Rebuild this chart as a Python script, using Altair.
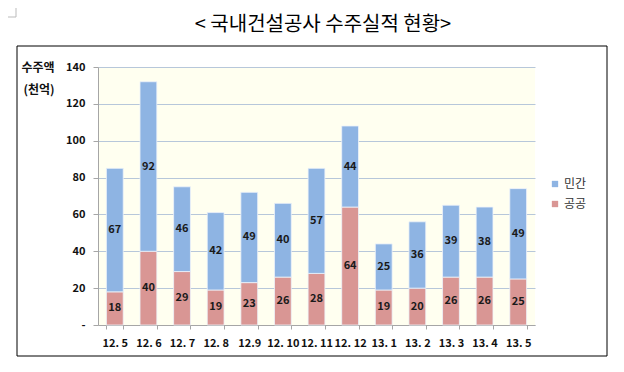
import altair as alt
import pandas as pd

months = ["12. 5", "12. 6", "12. 7", "12. 8", "12.9", "12. 10", "12. 11",
          "12. 12", "13. 1", "13. 2", "13. 3", "13. 4", "13. 5"]
public = [18, 40, 29, 19, 23, 26, 28, 64, 19, 20, 26, 26, 25]     # 공공
private = [67, 92, 46, 42, 49, 40, 57, 44, 25, 36, 39, 38, 49]    # 민간
series = ["민간", "공공"]
colors = ["#8EB4E3", "#D99694"]
y_ticks = [0, 20, 40, 60, 80, 100, 120, 140]

rows = []
for m, pu, pr in zip(months, public, private):
    rows.append({"month": m, "series": "공공", "value": pu, "ord": 0, "mid": pu / 2})
    rows.append({"month": m, "series": "민간", "value": pr, "ord": 1, "mid": pu + pr / 2})
df = pd.DataFrame(rows)

FONT = "Noto Sans CJK KR"

x_axis = alt.Axis(title=None, labelAngle=0, labelFont=FONT, labelFontWeight="bold",
                  labelFontSize=11, labelColor="#111111", labelPadding=8,
                  tickColor="#A6A6A6", tickSize=4, tickBand="extent",
                  domainColor="#A6A6A6", grid=False)
x_scale = alt.Scale(paddingInner=0.5, paddingOuter=0.25)

y_axis = alt.Axis(title=None, values=y_ticks, labelFont=FONT, labelFontWeight="bold",
                  labelFontSize=11, labelColor="#111111", labelPadding=8,
                  labelOverlap=False,
                  labelExpr="datum.value == 0 ? '-' : datum.label",
                  tickColor="#A6A6A6", tickSize=5, domainColor="#A6A6A6",
                  grid=True, gridColor="#B7C7DA", gridWidth=1)
y_scale = alt.Scale(domain=[0, 140], nice=False)

bars = alt.Chart(df).mark_bar(stroke="#EEF3FA", strokeWidth=0.8).encode(
    x=alt.X("month:N", sort=months, scale=x_scale, axis=x_axis),
    y=alt.Y("value:Q", stack="zero", scale=y_scale, axis=y_axis),
    color=alt.Color("series:N", scale=alt.Scale(domain=series, range=colors),
                    legend=alt.Legend(title=None, orient="none", legendX=451, legendY=111,
                                      symbolType="square", symbolSize=40,
                                      symbolStrokeWidth=0, labelFont=FONT,
                                      labelFontSize=12, labelColor="#333333",
                                      rowPadding=8, labelOffset=3)),
    order=alt.Order("ord:Q", sort="ascending"),
)

labels = alt.Chart(df).mark_text(font=FONT, fontWeight="bold", fontSize=11,
                                 color="#1A1A1A", baseline="middle").encode(
    x=alt.X("month:N", sort=months, scale=x_scale, axis=x_axis),
    y=alt.Y("mid:Q", scale=y_scale, axis=y_axis),
    text=alt.Text("value:Q"),
)

one = pd.DataFrame({"t": [""]})

frame = alt.Chart(one).mark_rect(fill="transparent", stroke="#000000", strokeWidth=1).encode(
    x=alt.value(-81), x2=alt.value(509), y=alt.value(-21), y2=alt.value(289))

corner = alt.Chart(one).mark_rule(color="#BBBBBB", strokeWidth=1).encode(
    x=alt.value(-82), y=alt.value(-67), y2=alt.value(-50))
corner2 = alt.Chart(one).mark_rule(color="#BBBBBB", strokeWidth=1).encode(
    x=alt.value(-92), x2=alt.value(-82), y=alt.value(-50))

title = alt.Chart(pd.DataFrame({"t": ["< 국내건설공사 수주실적 현황>"]})).mark_text(
    font=FONT, fontSize=20, color="#000000", baseline="middle", align="center").encode(
    x=alt.value(225), y=alt.value(-42), text="t:N")

ytitle1 = alt.Chart(pd.DataFrame({"t": ["수주액"]})).mark_text(
    font=FONT, fontSize=12, fontWeight="bold", color="#111111", baseline="middle",
    align="center").encode(x=alt.value(-60), y=alt.value(1), text="t:N")
ytitle2 = alt.Chart(pd.DataFrame({"t": ["(천억)"]})).mark_text(
    font=FONT, fontSize=12, fontWeight="bold", color="#111111", baseline="middle",
    align="center").encode(x=alt.value(-59), y=alt.value(23), text="t:N")

chart = alt.layer(bars, labels, frame, corner, corner2, title, ytitle1, ytitle2).properties(
    width=437, height=258, autosize="none",
    padding={"left": 90, "top": 59, "right": 81, "bottom": 39},
    background="#FFFFFF",
).configure_view(fill="#FFFFF0", strokeWidth=0)

chart.save("out.html", embed_options={"renderer": "svg", "actions": False})
